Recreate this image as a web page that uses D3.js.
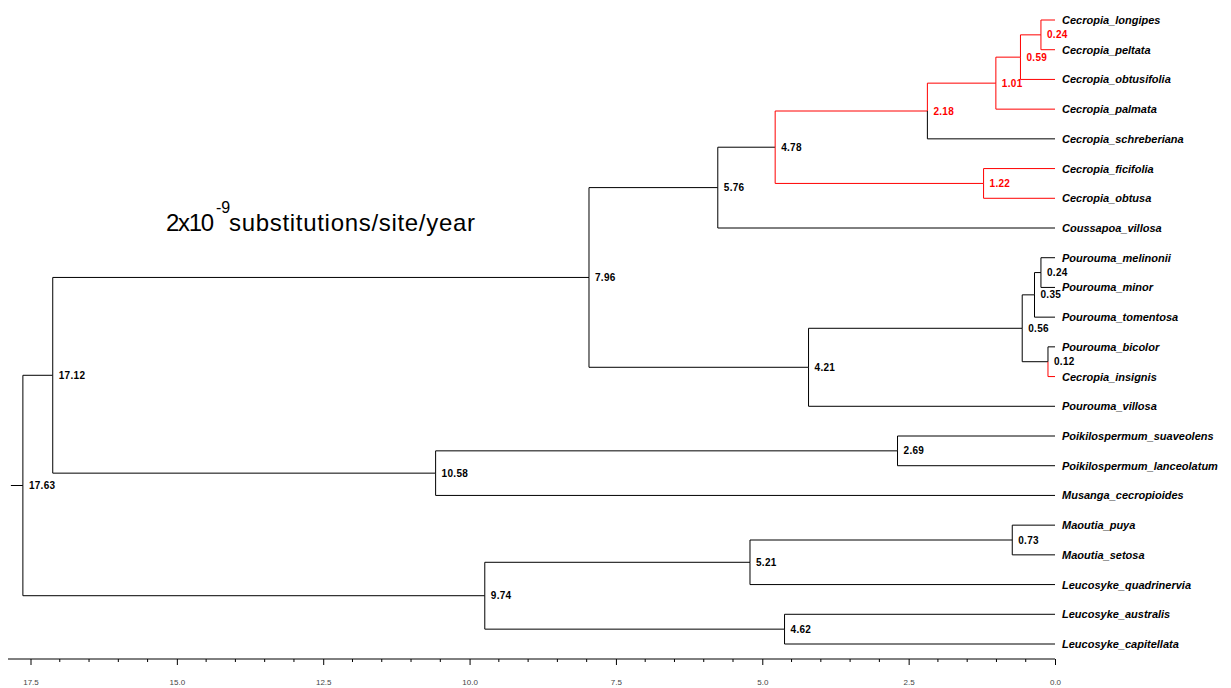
<!DOCTYPE html>
<html>
<head>
<meta charset="utf-8">
<script src="https://cdn.jsdelivr.net/npm/d3@7"></script>
<style>
  html, body { margin: 0; padding: 0; background: #fff; }
  svg { display: block; }
</style>
</head>
<body>
<svg id="chart" width="1231" height="688"></svg>
<script>
// ---- Data ----
const internalNodes = ["root","n1712","n974","n796","n1058","n576","n421","n478","n218","n101","n059","n024c","n122","n056","n035","n024p","n012","n269","n521","n073","n462"];
const nodeAges      = [17.63, 17.12, 9.74, 7.96, 10.58, 5.76, 4.21, 4.78, 2.18, 1.01, 0.59, 0.24, 1.22, 0.56, 0.35, 0.24, 0.12, 2.69, 5.21, 0.73, 4.62];
const nodeParents   = ["", "root","root","n1712","n1712","n796","n796","n576","n478","n218","n101","n059","n478","n421","n056","n035","n056","n1058","n974","n521","n974"];

const leafNames = ["Cecropia_longipes","Cecropia_peltata","Cecropia_obtusifolia","Cecropia_palmata","Cecropia_schreberiana","Cecropia_ficifolia","Cecropia_obtusa","Coussapoa_villosa","Pourouma_melinonii","Pourouma_minor","Pourouma_tomentosa","Pourouma_bicolor","Cecropia_insignis","Pourouma_villosa","Poikilospermum_suaveolens","Poikilospermum_lanceolatum","Musanga_cecropioides","Maoutia_puya","Maoutia_setosa","Leucosyke_quadrinervia","Leucosyke_australis","Leucosyke_capitellata"];
const leafParents = ["n024c","n024c","n059","n101","n218","n122","n122","n576","n024p","n024p","n035","n012","n012","n421","n269","n269","n1058","n073","n073","n521","n462","n462"];

const redBranches = ["n218","n101","n059","n024c","n122","Cecropia_longipes","Cecropia_peltata","Cecropia_obtusifolia","Cecropia_palmata","Cecropia_ficifolia","Cecropia_obtusa","Cecropia_insignis"];

const majorTicks = [17.5, 15.0, 12.5, 10.0, 7.5, 5.0, 2.5, 0.0];
const minorStep = 0.5;

const titleMain = "2x10";
const titleExp = "-9";
const titleUnit = "substitutions/site/year";

// ---- Build hierarchy ----
const rows = internalNodes.map((id, i) => ({id, parent: nodeParents[i] || null, age: nodeAges[i], leaf: false}))
  .concat(leafNames.map((id, i) => ({id, parent: leafParents[i], age: 0, leaf: true})));
const root = d3.stratify().id(d => d.id).parentId(d => d.parent)(rows);

const svg = d3.select("#chart");
const x = d3.scaleLinear().domain([17.5, 0]).range([30.5, 1055]);
const leaves = root.leaves();
const y = d3.scalePoint().domain(leaves.map(d => d.id)).range([20, 644]);

root.eachAfter(n => {
  n.py = n.children ? d3.mean(n.children, c => c.py) : y(n.id);
  n.px = x(n.data.age);
});

const redSet = new Set(redBranches);
const RED = "#ff0000";

// branches
const g = svg.append("g");
g.selectAll("path.branch")
  .data(root.descendants().filter(d => d.parent))
  .join("path")
  .attr("class", "branch")
  .attr("fill", "none")
  .attr("stroke", d => redSet.has(d.id) ? RED : "#000")
  .attr("stroke-width", 1)
  .attr("d", d => `M${d.parent.px},${d.parent.py}V${d.py}H${d.px}`);

// root stub
g.append("line")
  .attr("x1", root.px - 12).attr("x2", root.px)
  .attr("y1", root.py).attr("y2", root.py)
  .attr("stroke", "#000");

// node labels
g.selectAll("text.node")
  .data(root.descendants().filter(d => d.children))
  .join("text")
  .attr("class", "node")
  .attr("x", d => d.px + 6)
  .attr("y", d => d.py)
  .attr("dy", "0.36em")
  .attr("font-family", "Liberation Sans, Arial, sans-serif")
  .attr("font-weight", "bold")
  .attr("font-size", 10)
  .attr("letter-spacing", 0.3)
  .attr("fill", d => redSet.has(d.id) ? RED : "#000")
  .text(d => d.data.age.toFixed(2));

// leaf labels
g.selectAll("text.leaf")
  .data(leaves)
  .join("text")
  .attr("class", "leaf")
  .attr("x", d => d.px + 7)
  .attr("y", d => d.py)
  .attr("dy", "0.36em")
  .attr("font-family", "Liberation Sans, Arial, sans-serif")
  .attr("font-weight", "bold")
  .attr("font-style", "italic")
  .attr("font-size", 11)
  .attr("fill", "#000")
  .text(d => d.id);

// axis
const axisY = 659;
const axisG = svg.append("g").attr("transform", `translate(0,${axisY})`);
axisG.append("line").attr("x1", 8).attr("x2", x(0)).attr("y1", 0).attr("y2", 0).attr("stroke", "#000");
const minorTicks = d3.range(0, 17.5 + 1e-9, minorStep).filter(v => !majorTicks.some(m => Math.abs(m - v) < 1e-9));
axisG.selectAll("line.minor").data(minorTicks).join("line")
  .attr("x1", d => x(d)).attr("x2", d => x(d)).attr("y1", 0).attr("y2", 3).attr("stroke", "#000");
const axis = d3.axisBottom(x).tickValues(majorTicks).tickFormat(d3.format(".1f")).tickSize(6).tickPadding(14);
const ax = axisG.append("g").call(axis);
ax.select(".domain").remove();
ax.selectAll(".tick line").attr("stroke", "#000");
ax.selectAll(".tick text")
  .attr("font-family", "Liberation Sans, Arial, sans-serif")
  .attr("font-size", 8)
  .attr("fill", "#444");

// title
const t = svg.append("text")
  .attr("x", 166).attr("y", 231)
  .attr("font-family", "Liberation Sans, Arial, sans-serif")
  .attr("font-size", 24)
  .attr("fill", "#000");
t.append("tspan").text(titleMain).attr("textLength", 48);
t.append("tspan").attr("x", 216).attr("y", 213).attr("font-size", 16).text(titleExp);
t.append("tspan").attr("x", 229).attr("y", 231).attr("textLength", 246).text(titleUnit);
</script>
</body>
</html>
